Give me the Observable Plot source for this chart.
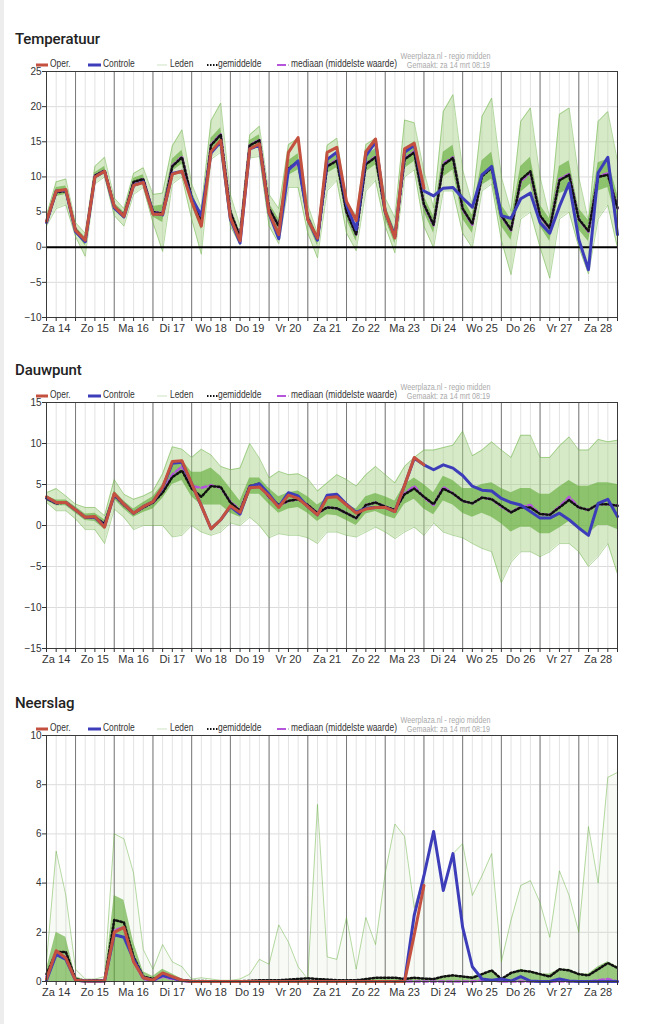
<!DOCTYPE html>
<html><head><meta charset="utf-8">
<script src="https://cdn.jsdelivr.net/npm/d3@7"></script>
<script src="https://cdn.jsdelivr.net/npm/@observablehq/plot@0.6"></script>
<style>
body{margin:0;background:#fff;}
#page{position:relative;width:659px;height:1024px;overflow:hidden;background:#fff;}
#strip{position:absolute;left:0;top:0;width:4px;height:1024px;background:#ededed;}
.title{position:absolute;left:15px;font:500 15px Roboto,"Noto Sans",sans-serif;line-height:15px;letter-spacing:-0.1px;color:#222;white-space:nowrap;}
.leg{position:absolute;font:10.5px "Liberation Sans",Arial,sans-serif;line-height:12px;color:#333;white-space:nowrap;transform:scaleX(0.8);transform-origin:0 50%;}
.sw{position:absolute;line-height:0;}
.sw svg{display:block;}
.credit{position:absolute;right:169px;text-align:right;font:9px "Liberation Sans",Arial,sans-serif;line-height:9px;color:#aaa;white-space:nowrap;transform:scaleX(0.8);transform-origin:100% 50%;}
.chart{position:absolute;left:0;}
</style></head>
<body><div id="page"><div id="strip"></div></div>
<script>
// ---------- data (6-hourly, starting Za 14 06:00) ----------
const dayLabels = ["Za 14","Zo 15","Ma 16","Di 17","Wo 18","Do 19","Vr 20","Za 21","Zo 22","Ma 23","Di 24","Wo 25","Do 26","Vr 27","Za 28"];

const tOper = [3.7,8.0,8.2,2.4,1.0,10.0,10.8,5.8,4.4,8.8,9.2,4.7,4.7,10.4,10.8,6.5,3.0,13.6,15.2,4.2,0.9,14.0,14.7,4.9,1.8,13.5,15.6,3.9,1.3,13.5,14.2,6.5,3.8,13.6,15.4,5.1,1.3,14.0,14.8,8.4];
const tCtrl = [3.5,8.0,8.1,2.2,0.8,10.0,10.8,5.6,4.3,8.8,9.3,4.8,4.6,10.5,10.8,7.0,4.5,13.4,15.0,4.0,0.6,14.0,14.5,4.8,1.2,11.0,12.3,4.0,1.0,12.5,13.5,6.0,2.5,13.0,15.0,5.0,1.5,13.5,14.5,8.0,7.3,8.4,8.5,7.0,5.7,10.3,11.5,4.5,4.1,6.9,7.7,3.5,2.0,5.8,9.1,1.1,-3.2,10.6,12.8,1.8];
const tMean = [3.6,7.8,8.0,2.5,0.8,10.2,10.9,5.8,4.5,9.3,9.7,5.0,4.8,11.5,12.8,7.0,3.5,14.5,16.0,5.0,1.5,14.5,15.2,5.5,3.0,11.2,12.2,4.2,1.0,11.5,12.3,5.0,1.8,11.8,12.8,5.0,1.5,12.5,13.5,6.1,3.2,11.7,12.7,5.5,3.3,10.1,11.3,4.5,2.5,9.6,10.8,4.5,2.7,9.5,10.3,4.0,2.3,10.0,10.3,5.6];
const tMed  = [3.6,7.9,8.0,2.5,0.8,10.2,10.9,5.8,4.5,9.2,9.7,5.0,4.9,11.6,12.9,7.0,3.6,14.6,16.1,5.0,1.5,14.5,15.3,5.5,3.0,11.0,12.0,4.2,1.0,11.6,12.4,5.0,1.8,11.9,12.9,5.0,1.5,12.6,13.6,6.0,3.1,11.9,12.8,5.4,3.2,10.3,11.4,4.4,2.4,9.4,10.6,4.3,2.6,9.7,10.4,4.0,2.2,10.1,10.5,5.5];
const tMax  = [4.5,9.3,9.7,3.5,2.0,11.5,12.8,7.0,5.5,10.5,11.3,7.5,7.7,14.4,16.7,9.0,5.6,18.0,20.5,7.5,3.0,16.0,17.2,7.5,5.5,14.6,15.5,6.0,2.0,14.5,15.5,6.5,4.5,14.6,15.5,7.0,4.2,18.1,17.7,10.8,5.6,19.3,21.7,11.0,6.1,18.6,21.2,10.0,5.1,17.9,19.8,10.0,4.2,18.9,19.8,10.0,3.7,17.9,19.3,12.2];
const tMin  = [3.0,5.5,6.0,1.5,-1.3,9.0,10.0,4.5,3.0,7.5,8.5,3.5,-0.6,9.0,10.0,4.0,-1.0,12.5,13.5,3.0,0.3,12.7,12.9,3.0,0.5,8.5,8.5,2.0,-1.5,8.0,9.5,2.0,-0.5,8.0,9.5,3.0,-0.8,10.0,11.0,3.0,-0.1,8.0,8.0,2.0,-0.1,8.0,9.0,1.0,-3.9,4.0,5.0,0.0,-4.4,4.0,5.0,0.0,-3.8,4.0,6.0,-0.1];
const tLo   = [3.3,7.2,7.5,2.1,0.2,9.7,10.4,5.3,4.0,8.8,9.2,4.3,3.5,10.8,11.8,6.0,2.5,13.8,15.2,4.3,1.0,13.8,14.5,4.7,2.0,10.2,11.0,3.4,0.2,10.5,11.3,4.0,0.8,10.7,11.7,4.0,0.5,11.2,12.2,5.0,2.0,10.0,11.0,4.0,2.0,8.8,9.7,3.0,1.0,7.8,9.0,3.0,0.8,7.6,8.2,2.5,0.8,8.0,8.5,3.5];
const tHi   = [3.9,8.5,8.7,2.9,1.4,10.6,11.5,6.3,5.0,9.8,10.3,5.8,6.0,12.5,13.8,8.0,4.5,15.5,17.0,5.8,2.2,15.2,16.0,6.3,4.0,12.3,13.3,5.0,1.8,12.5,13.5,6.0,2.8,13.0,14.0,6.0,2.5,14.0,15.0,7.3,4.4,13.5,14.5,7.0,4.6,12.3,13.5,6.0,4.0,11.5,12.8,6.0,4.0,11.5,12.3,5.5,3.8,12.0,12.5,7.5];

const dOper = [3.5,2.8,2.8,1.9,1.0,1.1,-0.2,3.9,2.6,1.5,2.3,2.9,4.7,7.8,7.9,5.1,2.4,-0.4,0.7,2.4,1.6,4.6,4.7,3.6,2.2,3.7,3.3,2.3,1.3,3.4,3.5,2.5,1.5,2.0,2.2,2.2,1.7,4.9,8.3,7.4];
const dCtrl = [3.4,2.8,2.8,1.9,1.0,1.0,-0.1,3.8,2.6,1.5,2.3,2.9,4.6,7.6,7.7,5.1,2.4,-0.4,0.7,2.3,1.4,4.7,5.1,3.8,2.3,4.0,3.6,2.3,1.3,3.7,3.8,2.6,1.6,2.1,2.2,2.2,1.7,4.9,8.2,7.4,6.8,7.4,7.0,6.1,4.8,4.3,4.2,3.3,2.8,2.5,1.7,0.9,0.9,1.5,0.7,-0.3,-1.2,2.7,3.2,1.1];
const dMean = [3.3,2.7,2.8,1.9,1.0,1.0,0.2,3.7,2.5,1.5,2.2,2.8,4.0,5.9,6.7,4.5,3.5,4.8,4.7,2.8,1.8,4.8,5.1,3.5,2.5,3.0,3.2,2.5,1.5,2.2,2.1,1.5,0.9,2.5,2.8,2.3,1.9,3.8,4.5,3.5,2.6,4.5,3.9,3.0,2.7,3.4,3.2,2.4,1.6,2.2,2.2,1.4,1.3,2.2,3.1,2.2,1.9,2.6,2.6,2.4];
const dMed  = [3.3,2.7,2.8,1.9,1.0,1.0,0.2,3.7,2.5,1.5,2.2,2.8,4.1,6.2,7.2,4.8,4.6,4.9,4.6,2.9,1.9,4.8,5.0,3.4,2.4,3.0,3.2,2.5,1.5,2.2,2.1,1.5,0.9,2.5,2.8,2.3,1.9,3.9,4.8,3.4,2.5,4.7,3.9,3.0,2.7,3.4,3.2,2.3,1.6,2.3,2.5,1.4,1.3,2.3,3.5,2.2,1.9,2.6,2.6,2.4];
const dMax  = [4.0,4.5,3.6,2.6,2.2,2.2,1.2,5.6,3.8,3.2,3.6,4.2,6.3,9.6,9.3,8.3,9.3,8.6,7.2,6.8,7.0,10.0,8.2,5.8,6.6,6.2,6.3,5.7,4.2,5.2,6.2,5.6,4.8,6.2,7.2,6.2,5.2,7.2,8.3,9.2,9.2,9.5,9.8,11.5,8.5,9.2,10.2,9.2,8.3,11.0,11.0,8.3,8.3,9.7,10.8,9.2,9.2,10.5,10.2,10.4];
const dMin  = [2.8,1.8,1.8,0.8,-0.5,-0.5,-2.2,2.0,1.0,-0.5,0.0,0.0,0.0,-1.4,-1.2,0.0,-0.8,-1.2,-0.8,0.3,0.0,1.0,0.0,-1.5,-1.0,-1.2,-1.2,-1.5,-2.2,-0.8,-0.8,-1.2,-1.4,-0.8,-0.2,-0.8,-1.6,-0.8,-0.2,-1.2,0.3,-0.8,-1.2,-1.5,-2.2,-2.8,-3.2,-7.0,-4.5,-3.2,-3.2,-3.8,-3.2,-2.2,-2.2,-3.2,-5.0,-3.8,-2.2,-5.9];
const dLo   = [3.0,2.4,2.4,1.5,0.6,0.5,-0.5,3.2,2.0,1.0,1.6,2.0,3.3,5.0,5.5,3.5,2.5,2.5,2.5,1.5,1.0,3.8,3.8,2.6,1.5,2.0,2.2,1.5,0.5,1.3,1.2,0.6,0.0,1.4,1.7,1.2,0.8,2.6,3.2,2.0,1.3,3.0,2.5,1.5,1.0,1.5,1.0,0.2,-0.8,-0.2,-0.2,-1.0,-1.0,-0.3,0.5,-0.5,-1.0,0.0,0.0,-0.5];
const dHi   = [3.6,3.1,3.1,2.3,1.4,1.5,0.7,4.2,3.0,2.0,2.8,3.5,5.0,7.5,8.0,6.5,6.5,7.0,6.0,4.5,3.0,5.8,5.8,4.5,3.5,4.0,4.2,3.5,2.5,3.3,3.3,2.6,2.0,3.5,3.9,3.5,3.0,5.0,5.8,5.0,4.0,6.0,5.5,4.5,4.5,5.0,5.2,4.5,4.0,4.5,4.5,3.8,3.8,4.7,5.5,4.8,4.8,5.2,5.2,5.0];

const pOper = [0.1,1.25,0.95,0.05,0.02,0.02,0.02,2.0,2.2,0.8,0.15,0.05,0.35,0.2,0.05,0,0,0,0,0,0,0,0,0,0,0,0,0,0,0,0,0,0,0,0,0,0,0,1.9,3.9];
const pCtrl = [0.05,1.1,0.9,0.05,0.02,0.02,0.02,1.9,1.8,0.9,0.15,0.05,0.25,0.15,0.05,0,0,0,0,0,0,0,0,0,0,0,0,0,0,0,0,0,0,0,0,0,0,0,2.7,4.3,6.1,3.7,5.2,2.2,0.6,0.1,0.05,0.1,0.02,0.2,0.02,0,0,0.1,0.02,0,0,0,0,0];
const pMean = [0.3,1.2,1.2,0.1,0.03,0.05,0.03,2.5,2.4,1.0,0.2,0.1,0.25,0.15,0.05,0.02,0.02,0.01,0.01,0.01,0.01,0.03,0.05,0.05,0.05,0.08,0.1,0.13,0.1,0.08,0.05,0.05,0.05,0.1,0.15,0.15,0.15,0.1,0.15,0.12,0.1,0.2,0.25,0.2,0.15,0.3,0.45,0.1,0.35,0.45,0.4,0.3,0.2,0.5,0.45,0.3,0.25,0.5,0.75,0.55];
const pMed  = [0.2,1.1,1.0,0.05,0,0,0,2.1,2.2,0.8,0.1,0.02,0.2,0.1,0.02,0,0,0,0,0,0,0,0,0,0,0,0,0,0,0,0,0,0,0,0,0,0,0,0,0,0,0,0,0,0,0.05,0.05,0,0,0,0,0,0,0,0,0,0,0.05,0.1,0];
const pMax  = [0.8,5.3,3.5,0.5,0.1,0.1,0.2,6.0,5.8,4.4,1.3,0.5,1.5,0.8,0.6,0.1,0.15,0.1,0.05,0.05,0.1,0.3,0.9,0.7,2.3,1.6,0.6,0.1,7.2,1.0,0.9,2.6,0.5,2.6,1.5,4.4,6.4,5.9,3.0,4.3,6.1,3.7,5.2,5.6,3.5,4.3,5.2,0.8,2.5,3.9,4.1,3.2,1.8,4.5,3.5,2.0,6.3,4.0,8.3,8.5];
const pHi   = [0.5,2.0,1.8,0.2,0.05,0.05,0.05,3.5,3.3,1.6,0.4,0.2,0.5,0.3,0.1,0.03,0.03,0.02,0.01,0.01,0.01,0.02,0.05,0.05,0.05,0.05,0.05,0.05,0.05,0.05,0.05,0.05,0.05,0.1,0.1,0.1,0.1,0.1,0.1,0.1,0.1,0.2,0.2,0.2,0.2,0.3,0.4,0.1,0.3,0.5,0.4,0.3,0.3,0.5,0.5,0.3,0.3,0.6,0.8,0.6];

// ---------- layout ----------
const N = 60, STEP = 6, END = (N - 1) * STEP;
const hours = d3.range(N).map(i => i * STEP);
const sixH = d3.range(0, END + 1, 6);
const dayLines = d3.range(18, END, 24);
const noons = d3.range(6, END, 24);

const C = {oper:"#c4503f", ctrl:"#3d3dba", med:"#b455dc", mean:"#111", member:"#5fae35"};

function rows(s) {
  return hours.map((h, i) => ({h,
    oper: s.oper[i] ?? null, ctrl: s.ctrl[i] ?? null, mean: s.mean[i], med: s.med[i],
    max: s.max[i], min: s.min ? s.min[i] : 0, lo: s.lo ? s.lo[i] : 0, hi: s.hi[i]}));
}

const panels = [
  {title:"Temperatuur", top:71, domain:[-10,25], ticks:d3.range(-10,26,5), zero:true,
   s:{oper:tOper, ctrl:tCtrl, mean:tMean, med:tMed, max:tMax, min:tMin, lo:tLo, hi:tHi}},
  {title:"Dauwpunt", top:402, domain:[-15,15], ticks:d3.range(-15,16,5), zero:false,
   s:{oper:dOper, ctrl:dCtrl, mean:dMean, med:dMed, max:dMax, min:dMin, lo:dLo, hi:dHi}},
  {title:"Neerslag", top:735, domain:[0,10], ticks:d3.range(0,11,2), zero:false, precip:true,
   s:{oper:pOper, ctrl:pCtrl, mean:pMean, med:pMed, max:pMax, hi:pHi}}
];

const page = document.getElementById("page");
const MT = 8, FH = 246, MB = 22;

function swatch(kind) {
  const svg = {
    oper:`<svg width="12" height="4"><line x1="0" x2="12" y1="2" y2="2" stroke="${C.oper}" stroke-width="3"/></svg>`,
    ctrl:`<svg width="13" height="4"><line x1="0" x2="13" y1="2" y2="2" stroke="${C.ctrl}" stroke-width="3"/></svg>`,
    mem:`<svg width="10" height="4"><line x1="0" x2="10" y1="2" y2="2" stroke="#cfe3c2" stroke-width="1"/></svg>`,
    mean:`<svg width="11" height="4"><line x1="0" x2="11" y1="2" y2="2" stroke="#111" stroke-width="2" stroke-dasharray="1.5,1.5"/></svg>`,
    med:`<svg width="12" height="4"><line x1="0" x2="9" y1="2" y2="2" stroke="${C.med}" stroke-width="2"/><line x1="11" x2="12" y1="2" y2="2" stroke="#999" stroke-width="1"/></svg>`
  };
  return svg[kind];
}
const legendItems = [
  {kind:"oper", label:"Oper.", sx:36, tx:50},
  {kind:"ctrl", label:"Controle", sx:88, tx:103},
  {kind:"mem", label:"Leden", sx:157, tx:170},
  {kind:"mean", label:"gemiddelde", sx:207, tx:218},
  {kind:"med", label:"mediaan (middelste waarde)", sx:277, tx:291}
];

for (const p of panels) {
  const data = rows(p.s);
  const t = document.createElement("div");
  t.className = "title"; t.textContent = p.title; t.style.top = (p.top - 39) + "px";
  page.appendChild(t);

  const marks = [
    Plot.ruleY(p.ticks, {y: d => d, stroke:"#dcdcdc", strokeWidth:1}),
    Plot.ruleX(sixH, {x: d => d, stroke:"#e2e2e2", strokeWidth:1}),
    Plot.ruleX(dayLines, {x: d => d, stroke:"#7a7a7a", strokeWidth:1}),
    Plot.areaY(data, {x:"h", y1:"min", y2:"max", fill:"#a3d184", fillOpacity: p.precip ? 0.08 : 0.45}),
    Plot.areaY(data, {x:"h", y1:"lo", y2:"hi", fill:"#5aa82f", fillOpacity: 0.6}),
    Plot.lineY(data, {x:"h", y:"max", stroke:C.member, strokeOpacity:0.45, strokeWidth:1}),
  ];
  if (!p.precip) marks.push(Plot.lineY(data, {x:"h", y:"min", stroke:C.member, strokeOpacity:0.45, strokeWidth:1}));
  if (p.zero) marks.push(Plot.ruleY([0], {stroke:"#000", strokeWidth:2}));
  marks.push(
    Plot.lineY(data, {x:"h", y:"med", stroke:C.med, strokeWidth:2.5, strokeDasharray:"5,3"}),
    Plot.lineY(data, {x:"h", y:"mean", stroke:C.mean, strokeWidth:2.5, strokeDasharray:"1.6,2.2"}),
    Plot.lineY(data, {x:"h", y:"ctrl", stroke:C.ctrl, strokeWidth:3, strokeLinejoin:"round"}),
    Plot.lineY(data, {x:"h", y:"oper", stroke:C.oper, strokeWidth:3, strokeLinejoin:"round"}),
    Plot.frame({stroke:"#3a3a3a", strokeWidth:1}),
    Plot.axisY({ticks:p.ticks, tickSize:4, tickPadding:1, fontSize:10, stroke:"#333", fill:"#333", label:null}),
    Plot.axisX({ticks:sixH, tickSize:4, tickFormat:() => "", stroke:"#333", label:null}),
    Plot.axisX({ticks:noons, tickSize:0, tickPadding:7, fontSize:11, fill:"#333", label:null, tickFormat:(d, i) => dayLabels[i]})
  );

  const chart = Plot.plot({
    width:659, height: MT + FH + MB,
    marginLeft:46, marginRight:42, marginTop:MT, marginBottom:MB,
    style:{fontFamily:"Arial, 'Liberation Sans', sans-serif", background:"transparent", overflow:"visible"},
    x:{domain:[0, END], axis:null, label:null},
    y:{domain:p.domain, axis:null, label:null},
    marks
  });
  const wrap = document.createElement("div");
  wrap.className = "chart"; wrap.style.top = (p.top - MT) + "px";
  wrap.appendChild(chart);
  page.appendChild(wrap);

  for (const it of legendItems) {
    const s = document.createElement("div");
    s.className = "sw"; s.style.left = it.sx + "px"; s.style.top = (p.top - 8) + "px";
    s.innerHTML = swatch(it.kind);
    page.appendChild(s);
    const l = document.createElement("div");
    l.className = "leg"; l.style.left = it.tx + "px"; l.style.top = (p.top - 14) + "px";
    l.textContent = it.label;
    page.appendChild(l);
  }
  const c1 = document.createElement("div");
  c1.className = "credit"; c1.style.top = (p.top - 19) + "px"; c1.textContent = "Weerplaza.nl - regio midden";
  const c2 = document.createElement("div");
  c2.className = "credit"; c2.style.top = (p.top - 10.5) + "px"; c2.textContent = "Gemaakt: za 14 mrt 08:19";
  page.appendChild(c1); page.appendChild(c2);
}
</script>
</body></html>
